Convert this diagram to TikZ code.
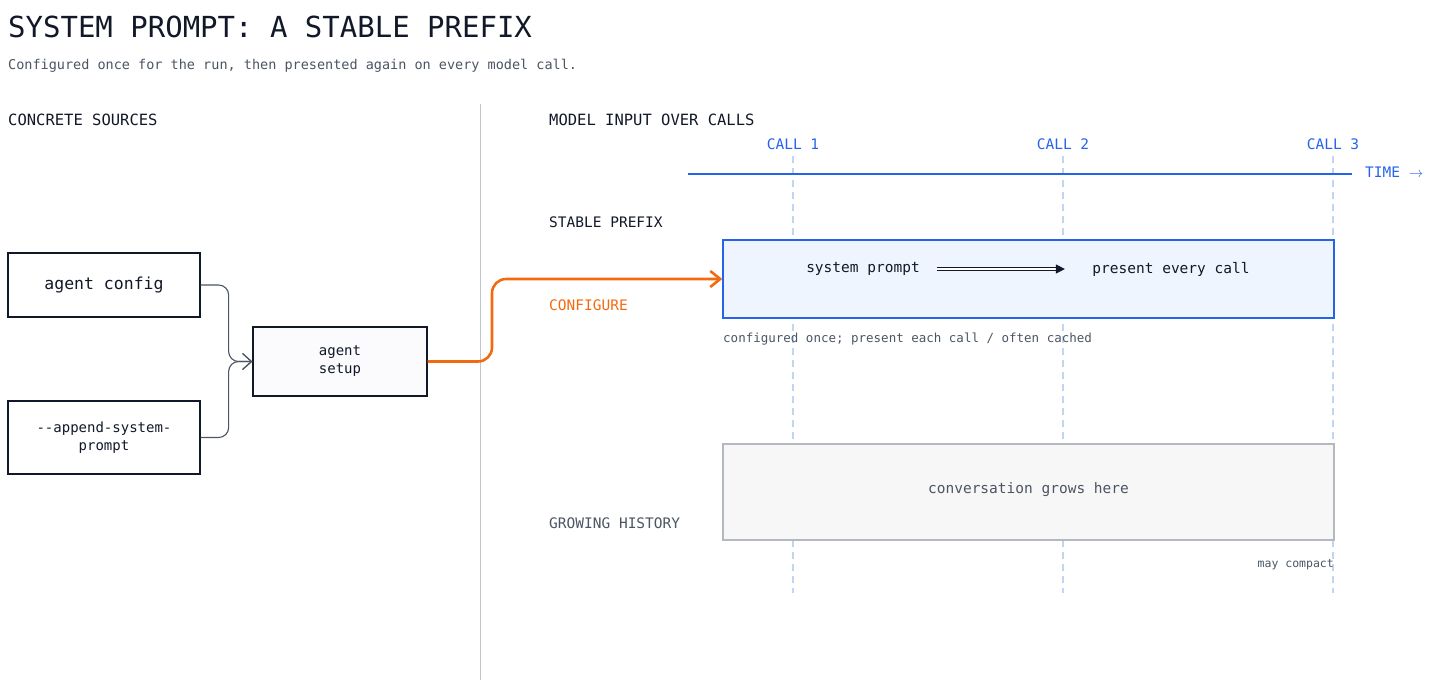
\documentclass[tikz,border=0pt]{standalone}
\usepackage{fontspec}
\setmainfont{DejaVu Sans Mono}
\usetikzlibrary{arrows.meta,positioning,calc}
\definecolor{ink}{HTML}{111827}
\definecolor{slate}{HTML}{4B5563}
\definecolor{callblue}{HTML}{2563EB}
\definecolor{lightblue}{HTML}{BFD5F2}
\definecolor{boxblue}{HTML}{EFF5FE}
\definecolor{orng}{HTML}{F26A10}
\definecolor{greybox}{HTML}{F7F7F7}
\definecolor{greyline}{HTML}{B4B9C0}

\begin{document}
\begin{tikzpicture}[
    x=1pt, y=-1pt,
    src/.style={rectangle, draw=ink, line width=1.3pt, fill=white, minimum width=192pt, align=center, font=\fontsize{16.5}{19}\selectfont, text=ink},
    lbl/.style={anchor=west, inner sep=0pt, font=\fontsize{15.5}{18}\selectfont, text=ink},
    call/.style={inner sep=0pt, font=\fontsize{14.5}{17}\selectfont, text=callblue},
    feed/.style={draw=slate, line width=1.1pt, rounded corners=10pt, -{Straight Barb[length=9pt,width=16pt]}},
    callline/.style={draw=lightblue, line width=1.3pt, dash pattern=on 7pt off 5pt}
]
\useasboundingbox (0,0) rectangle (1456,689);

% Title
\node[anchor=west, inner sep=0pt, font=\fontsize{29}{34}\selectfont, text=ink] (title) at (8,27) {SYSTEM PROMPT: A STABLE PREFIX};
\node[anchor=west, inner sep=0pt, font=\fontsize{13.5}{16}\selectfont, text=slate] (sub) at (8,66) {Configured once for the run, then presented again on every model call.};

% Divider
\draw[greyline!80, line width=1pt] (480,104) -- (480,680);

% Left side
\node[lbl] (srchead) at (8,120) {CONCRETE SOURCES};
\node[src, minimum height=64pt] (config) at (104,285) {agent config};
\node[src, minimum height=73pt, font=\fontsize{14}{18}\selectfont] (append) at (104,437.5) {{-}{-}append-system-\\prompt};
\node[src, fill=greybox!60!boxblue!40!white, minimum width=174pt, minimum height=69pt, font=\fontsize{14}{18}\selectfont] (setup) at (340,361.5) {agent\\setup};

\draw[feed] (config.east) -- ++(28,0) |- (setup.west);
\draw[feed] (append.east) -- ++(28,0) |- (setup.west);

% Right side
\node[lbl] (righthead) at (549,120) {MODEL INPUT OVER CALLS};
\foreach \n/\x in {1/793, 2/1063, 3/1333} {
    \node[call] (call\n) at (\x,144) {CALL \n};
    \draw[callline] (\x,156) -- (\x,593);
}
\coordinate (tstart) at (688,174);
\coordinate (tend) at (1352,174);
\draw[callblue, line width=2.2pt] (tstart) -- (tend);
\node[call, anchor=west] (time) at (1365,172) {TIME $\rightarrow$};

\node[lbl, font=\fontsize{14.5}{17}\selectfont] (stable) at (549,222) {STABLE PREFIX};
\node[draw=callblue, line width=1.3pt, fill=boxblue, minimum width=611pt, minimum height=78pt, inner sep=0pt] (prefix) at (1028.5,279) {};
\node[font=\fontsize{14.5}{17}\selectfont, text=ink] (sysp) at (863,269) {system prompt};
\node[font=\fontsize{14.5}{17}\selectfont, text=ink] (every) at (1171,269) {present every call};
\draw[ink, double, double distance=2.2pt, line width=1.2pt, -{Triangle[length=9pt,width=9pt]}] ($(sysp.east)+(14,0)$) -- ($(every.west)+(-24,0)$);
\node[anchor=west, inner sep=0pt, font=\fontsize{12.5}{15}\selectfont, text=slate] (note) at (723,339) {configured once; present each call / often cached};

\node[lbl, text=orng, font=\fontsize{14.5}{17}\selectfont] (configure) at (549,305) {CONFIGURE};
\draw[orng, line width=2.6pt, rounded corners=14pt, -{Straight Barb[length=10pt,width=16pt]}] (setup.east) -- (492,361.5) |- (prefix.west |- 0,279);

\node[draw=greyline, line width=1.3pt, fill=greybox, minimum width=611pt, minimum height=96pt, inner sep=0pt] (history) at (1028.5,492) {};
\node[font=\fontsize{14.5}{17}\selectfont, text=slate] (grows) at (1028.5,490) {conversation grows here};
\node[lbl, text=slate, font=\fontsize{14.5}{17}\selectfont] (growing) at (549,523) {GROWING HISTORY};
\node[anchor=east, inner sep=0pt, font=\fontsize{11.5}{14}\selectfont, text=slate] (compact) at (1334,565) {may compact};
\end{tikzpicture}
\end{document}
